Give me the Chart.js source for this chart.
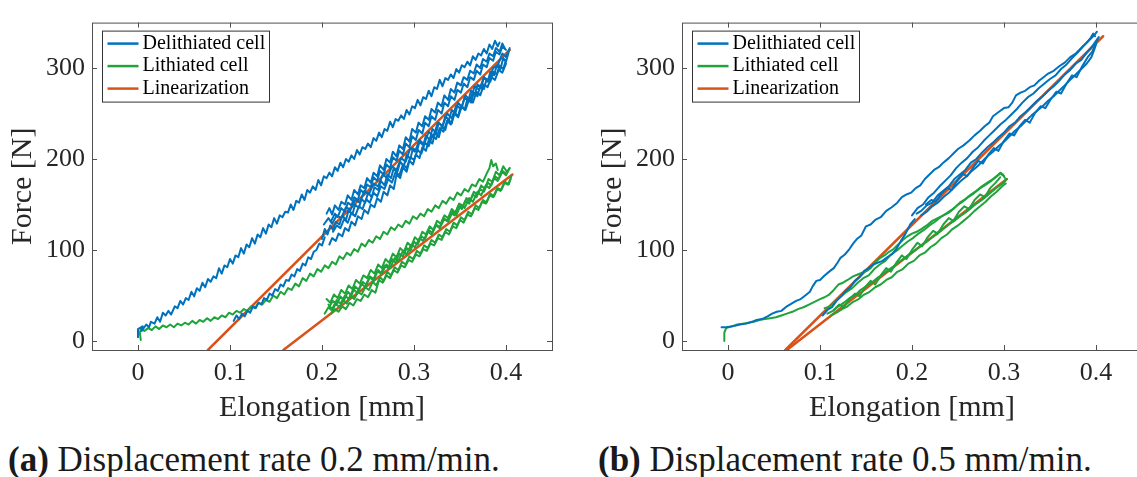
<!DOCTYPE html>
<html>
<head>
<meta charset="utf-8">
<script src="https://cdn.jsdelivr.net/npm/chart.js@4.4.1/dist/chart.umd.min.js"></script>
<style>
html, body { margin: 0; overflow: hidden; }
body { width: 1137px; height: 477px; background: #fff; position: relative; font-family: 'Liberation Serif', serif; }
canvas { position: absolute; top: 0; }
#chartA { left: 0; }
#chartB { left: 590px; }
.caption { position: absolute; top: 440px; font-size: 35px; line-height: 40px; color: #1a1a1a; white-space: nowrap; }
</style>
</head>
<body>
<canvas id="chartA" width="560" height="430"></canvas>
<canvas id="chartB" width="560" height="430"></canvas>
<div class="caption" style="left:8px"><b>(a)</b> Displacement rate 0.2 mm/min.</div>
<div class="caption" style="left:598px"><b>(b)</b> Displacement rate 0.5 mm/min.</div>
<script>
var xTicks = [0, 0.1, 0.2, 0.3, 0.4];
var yTicks = [0, 100, 200, 300];
var xRange = [-0.05, 0.45];
var yRange = [-10, 350];

var seriesNames = ['Delithiated cell', 'Lithiated cell', 'Linearization'];
var seriesColors = ['#0072BD', '#1FA33B', '#D95319'];

// traces are flat lists: x0, y0, x1, y1, ...  (elongation in mm, force in N)

// (a) 0.2 mm/min
var delithA_first = [0.000,4, 0.000,13, 0.005,16, 0.004,11, 0.009,18, 0.012,15, 0.014,21, 0.018,19, 0.021,26, 0.024,21,
  0.027,31, 0.030,28, 0.033,33, 0.036,29, 0.040,38, 0.043,36, 0.046,44, 0.049,40, 0.052,47, 0.055,45, 0.058,54, 0.061,49,
  0.064,58, 0.067,55, 0.070,64, 0.073,59, 0.076,68, 0.079,65, 0.082,71, 0.085,69, 0.088,80, 0.091,74, 0.094,83, 0.097,81,
  0.100,90, 0.103,85, 0.106,94, 0.109,92, 0.112,102, 0.115,96, 0.118,106, 0.121,103, 0.124,113, 0.127,107, 0.130,117,
  0.133,114, 0.136,124, 0.139,118, 0.142,128, 0.145,125, 0.148,135, 0.151,129, 0.154,138, 0.157,136, 0.160,142, 0.163,141,
  0.166,150, 0.169,144, 0.172,154, 0.175,152, 0.178,161, 0.181,155, 0.184,166, 0.187,163, 0.190,170, 0.193,166, 0.196,177,
  0.199,171, 0.202,181, 0.205,179, 0.208,185, 0.211,181, 0.214,191, 0.217,187, 0.220,196, 0.223,191, 0.226,200, 0.229,197,
  0.232,204, 0.235,200, 0.238,210, 0.241,205, 0.244,213, 0.247,211, 0.250,217, 0.253,213, 0.256,223, 0.259,220, 0.262,229,
  0.265,224, 0.268,233, 0.271,231, 0.274,241, 0.277,235, 0.280,244, 0.283,242, 0.286,248, 0.289,244, 0.292,254, 0.295,249,
  0.298,258, 0.301,256, 0.304,265, 0.307,259, 0.310,268, 0.313,266, 0.316,275, 0.319,269, 0.322,279, 0.325,277, 0.328,287,
  0.331,280, 0.334,289, 0.337,287, 0.340,293, 0.343,289, 0.346,299, 0.349,295, 0.352,303, 0.355,301, 0.358,307, 0.361,303,
  0.364,313, 0.367,309, 0.370,316, 0.373,314, 0.376,321, 0.379,316, 0.382,326, 0.385,321, 0.388,330, 0.391,324, 0.393,328];
var delithA_lead = [0.104,22, 0.107,28, 0.110,24, 0.113,30, 0.116,27, 0.119,33, 0.122,31, 0.125,38, 0.128,36, 0.131,42,
  0.134,40, 0.137,47, 0.140,45, 0.143,52, 0.146,50, 0.149,57, 0.152,55, 0.155,62, 0.158,60, 0.161,67, 0.164,66, 0.167,73,
  0.170,71, 0.173,79, 0.176,77, 0.179,85, 0.182,83, 0.185,92, 0.188,90, 0.191,98, 0.194,100, 0.197,107, 0.200,105, 0.203,114];
var delithA_c1 = [0.205,140, 0.208,146, 0.211,139, 0.214,149, 0.218,144, 0.221,153, 0.225,150, 0.228,160, 0.232,155,
  0.235,166, 0.239,161, 0.242,171, 0.246,168, 0.249,179, 0.253,174, 0.256,185, 0.260,181, 0.263,193, 0.267,188, 0.270,200,
  0.274,196, 0.277,208, 0.281,203, 0.284,215, 0.288,211, 0.291,224, 0.295,219, 0.298,233, 0.302,229, 0.305,240, 0.309,236,
  0.312,247, 0.316,243, 0.319,255, 0.323,251, 0.326,262, 0.330,258, 0.333,270, 0.337,265, 0.340,277, 0.344,273, 0.347,284,
  0.351,281, 0.354,290, 0.358,287, 0.361,297, 0.365,294, 0.368,304, 0.372,300, 0.375,310, 0.379,307, 0.382,316, 0.386,313,
  0.389,322, 0.393,318, 0.396,327, 0.399,321];
var delithA_c2 = [0.200,112, 0.203,123, 0.206,117, 0.209,127, 0.212,122, 0.215,131, 0.219,128, 0.222,138, 0.226,133,
  0.229,144, 0.233,139, 0.236,150, 0.240,146, 0.243,156, 0.247,152, 0.250,163, 0.254,158, 0.257,169, 0.261,166, 0.264,176,
  0.268,171, 0.271,183, 0.275,179, 0.278,190, 0.282,186, 0.285,197, 0.289,192, 0.292,205, 0.296,200, 0.299,212, 0.303,208,
  0.306,219, 0.310,215, 0.313,226, 0.317,221, 0.320,233, 0.324,229, 0.327,240, 0.331,236, 0.334,247, 0.338,243, 0.341,254,
  0.345,250, 0.348,262, 0.352,257, 0.355,268, 0.359,264, 0.362,275, 0.366,271, 0.369,282, 0.373,278, 0.376,290, 0.380,285,
  0.383,296, 0.387,292, 0.390,303, 0.394,299, 0.397,311, 0.400,307, 0.403,318];
var delithA_c3 = [0.208,106, 0.211,113, 0.215,110, 0.218,118, 0.222,115, 0.225,124, 0.229,121, 0.232,131, 0.236,127,
  0.239,137, 0.243,134, 0.246,144, 0.250,140, 0.253,150, 0.257,147, 0.260,157, 0.264,153, 0.267,164, 0.271,160, 0.274,171,
  0.278,167, 0.281,183, 0.285,179, 0.288,191, 0.292,186, 0.295,198, 0.299,194, 0.302,205, 0.306,201, 0.309,213, 0.313,209,
  0.316,221, 0.320,217, 0.323,229, 0.327,224, 0.330,236, 0.334,232, 0.337,244, 0.341,239, 0.344,251, 0.348,247, 0.351,259,
  0.355,254, 0.358,266, 0.362,262, 0.365,273, 0.369,269, 0.372,281, 0.376,277, 0.379,288, 0.383,285, 0.386,296, 0.390,293,
  0.393,303, 0.397,299, 0.400,309];
var delithA_c4 = [0.202,128, 0.207,135, 0.211,129, 0.216,138, 0.221,135, 0.226,147, 0.231,144, 0.236,155, 0.241,152,
  0.246,165, 0.251,161, 0.256,173, 0.261,170, 0.266,183, 0.271,179, 0.276,192, 0.281,188, 0.286,201, 0.291,197, 0.296,212,
  0.301,208, 0.306,221, 0.311,216, 0.316,230, 0.321,225, 0.326,240, 0.331,236, 0.336,250, 0.341,245, 0.346,259, 0.351,255,
  0.356,270, 0.361,265, 0.366,280, 0.371,276, 0.376,290, 0.381,286, 0.386,300, 0.391,303, 0.396,316, 0.400,312, 0.404,322];
var delithA_c5 = [0.210,132, 0.214,140, 0.217,136, 0.221,146, 0.225,142, 0.228,152, 0.232,149, 0.235,158, 0.239,155,
  0.242,166, 0.246,162, 0.249,172, 0.253,169, 0.256,180, 0.260,176, 0.263,187, 0.267,183, 0.270,194, 0.274,190, 0.277,202,
  0.281,198, 0.284,209, 0.288,205, 0.291,217, 0.295,213, 0.298,225, 0.302,221, 0.305,232, 0.309,228, 0.312,240, 0.316,236,
  0.319,247, 0.323,243, 0.326,254, 0.330,250, 0.333,262, 0.337,258, 0.340,269, 0.344,265, 0.347,276, 0.351,273, 0.354,283,
  0.358,279, 0.361,290, 0.365,287, 0.368,297, 0.372,293, 0.375,304, 0.379,301, 0.382,311, 0.386,308, 0.389,318, 0.393,315,
  0.396,324, 0.400,320];
var delithA_c6 = [0.212,120, 0.216,127, 0.220,124, 0.224,134, 0.228,130, 0.232,141, 0.236,137, 0.240,148, 0.244,145,
  0.248,156, 0.252,152, 0.256,163, 0.260,159, 0.264,170, 0.268,167, 0.272,178, 0.276,174, 0.280,186, 0.284,182, 0.288,194,
  0.292,190, 0.296,202, 0.300,199, 0.304,210, 0.308,206, 0.312,218, 0.316,214, 0.320,226, 0.324,222, 0.328,234, 0.332,230,
  0.336,242, 0.340,238, 0.344,250, 0.348,246, 0.352,258, 0.356,254, 0.360,266, 0.364,262, 0.368,274, 0.372,270, 0.376,282,
  0.380,279, 0.384,290, 0.388,287, 0.392,298, 0.396,295, 0.400,305];

var lithA_first = [0.003,1, 0.002,9, 0.003,13, 0.007,11, 0.011,14, 0.015,12, 0.019,16, 0.023,13, 0.027,17, 0.031,15,
  0.035,18, 0.039,15, 0.043,19, 0.047,17, 0.051,20, 0.055,18, 0.059,22, 0.063,19, 0.067,23, 0.071,21, 0.075,25, 0.079,22,
  0.083,26, 0.087,24, 0.091,28, 0.095,26, 0.099,31, 0.103,29, 0.107,33, 0.111,31, 0.115,35, 0.119,33, 0.123,38, 0.127,36,
  0.131,42, 0.135,40, 0.139,45, 0.143,43, 0.147,50, 0.151,47, 0.155,54, 0.159,51, 0.163,58, 0.167,56, 0.171,63, 0.175,60,
  0.179,69, 0.183,66, 0.187,74, 0.191,71, 0.195,79, 0.199,76, 0.203,83, 0.207,80, 0.211,87, 0.215,84, 0.219,93, 0.223,90,
  0.227,97, 0.231,94, 0.235,101, 0.239,98, 0.243,107, 0.247,104, 0.251,111, 0.255,108, 0.259,115, 0.263,112, 0.267,120,
  0.271,117, 0.275,125, 0.279,122, 0.283,128, 0.287,125, 0.291,132, 0.295,129, 0.299,137, 0.303,134, 0.307,140, 0.311,137,
  0.315,145, 0.319,142, 0.323,149, 0.327,146, 0.331,154, 0.335,151, 0.339,158, 0.343,155, 0.347,163, 0.351,160, 0.355,167,
  0.359,164, 0.363,172, 0.367,170, 0.371,178, 0.375,175, 0.379,184, 0.382,190, 0.384,199, 0.386,192, 0.389,195, 0.391,188];
var lithA_c1 = [0.205,46, 0.209,42, 0.213,51, 0.217,47, 0.221,56, 0.225,52, 0.229,61, 0.233,57, 0.237,67, 0.241,63,
  0.245,72, 0.249,69, 0.253,78, 0.257,74, 0.261,84, 0.265,80, 0.269,90, 0.273,86, 0.277,96, 0.281,92, 0.285,102, 0.289,98,
  0.293,108, 0.297,104, 0.301,114, 0.305,110, 0.309,120, 0.313,117, 0.317,126, 0.321,122, 0.325,132, 0.329,129, 0.333,138,
  0.337,135, 0.341,145, 0.345,141, 0.349,151, 0.353,148, 0.357,157, 0.361,154, 0.365,164, 0.369,161, 0.373,171, 0.377,167,
  0.381,178, 0.385,175, 0.389,186, 0.393,182, 0.397,192, 0.401,186, 0.404,190];
var lithA_c2 = [0.203,30, 0.207,37, 0.211,33, 0.215,41, 0.219,37, 0.223,45, 0.227,41, 0.231,50, 0.235,46, 0.239,54,
  0.243,51, 0.247,59, 0.251,56, 0.255,65, 0.259,61, 0.263,70, 0.267,66, 0.271,76, 0.275,72, 0.279,81, 0.283,78, 0.287,87,
  0.291,84, 0.295,93, 0.299,90, 0.303,99, 0.307,96, 0.311,105, 0.315,102, 0.319,111, 0.323,108, 0.327,117, 0.331,114,
  0.335,123, 0.339,120, 0.343,130, 0.347,127, 0.351,136, 0.355,133, 0.359,142, 0.363,139, 0.367,149, 0.371,146, 0.375,155,
  0.379,152, 0.383,162, 0.387,159, 0.391,168, 0.395,166, 0.399,175, 0.403,172, 0.406,182];
var lithA_c3 = [0.210,30, 0.214,35, 0.218,32, 0.222,38, 0.226,35, 0.230,42, 0.234,39, 0.238,46, 0.242,44, 0.246,51,
  0.250,48, 0.254,56, 0.258,53, 0.262,67, 0.266,64, 0.270,72, 0.274,69, 0.278,78, 0.282,75, 0.286,83, 0.290,81, 0.294,89,
  0.298,87, 0.302,95, 0.306,93, 0.310,101, 0.314,99, 0.318,107, 0.322,105, 0.326,113, 0.330,111, 0.334,120, 0.338,117,
  0.342,126, 0.346,124, 0.350,133, 0.354,130, 0.358,139, 0.362,137, 0.366,146, 0.370,144, 0.374,153, 0.378,151, 0.382,160,
  0.386,158, 0.390,167, 0.394,165, 0.398,174, 0.402,172, 0.405,178];
var lithA_c4 = [0.207,40, 0.211,35, 0.216,45, 0.220,41, 0.225,50, 0.229,46, 0.234,57, 0.238,53, 0.243,63, 0.247,59,
  0.252,70, 0.256,66, 0.261,78, 0.265,74, 0.270,84, 0.274,80, 0.279,91, 0.283,88, 0.288,99, 0.292,95, 0.297,106, 0.301,103,
  0.306,113, 0.310,110, 0.315,120, 0.319,117, 0.324,127, 0.328,124, 0.333,134, 0.337,131, 0.342,142, 0.346,138, 0.351,150,
  0.355,146, 0.360,157, 0.364,153, 0.369,164, 0.373,160, 0.378,171, 0.382,168, 0.387,179, 0.391,176, 0.396,186, 0.400,182, 0.404,190];
var lithA_c5 = [0.208,38, 0.212,44, 0.216,40, 0.220,49, 0.224,45, 0.228,54, 0.232,50, 0.236,60, 0.240,56, 0.244,65,
  0.248,62, 0.252,71, 0.256,68, 0.260,77, 0.264,74, 0.268,83, 0.272,80, 0.276,90, 0.280,86, 0.284,96, 0.288,93, 0.292,102,
  0.296,99, 0.300,109, 0.304,106, 0.308,115, 0.312,112, 0.316,122, 0.320,119, 0.324,128, 0.328,125, 0.332,135, 0.336,132,
  0.340,141, 0.344,138, 0.348,148, 0.352,145, 0.356,154, 0.360,151, 0.364,161, 0.368,158, 0.372,167, 0.376,164, 0.380,174,
  0.384,171, 0.388,181, 0.392,178, 0.396,187, 0.400,184];

var linA_delith = [0.076,-10, 0.404,320];
var linA_lith = [0.158,-10, 0.407,183];

// (b) 0.5 mm/min
var delithB_first = [-0.007,15, -0.002,15, 0.005,16, 0.013,18, 0.020,19, 0.026,21, 0.031,23, 0.037,24, 0.043,27, 0.048,30,
  0.053,32, 0.058,33, 0.064,38, 0.069,41, 0.074,44, 0.079,46, 0.084,50, 0.089,54, 0.092,60, 0.096,66, 0.100,67, 0.105,72,
  0.111,77, 0.115,80, 0.119,86, 0.122,91, 0.127,95, 0.132,101, 0.136,107, 0.140,112, 0.145,116, 0.150,126, 0.155,128,
  0.160,133, 0.166,136, 0.172,143, 0.178,147, 0.184,152, 0.189,158, 0.194,161, 0.199,163, 0.204,168, 0.209,171, 0.214,178,
  0.219,183, 0.224,188, 0.229,191, 0.234,196, 0.240,201, 0.245,206, 0.250,211, 0.256,215, 0.262,220, 0.268,226, 0.274,231,
  0.279,236, 0.284,240, 0.288,247, 0.292,250, 0.296,253, 0.300,256, 0.305,257, 0.309,262, 0.313,270, 0.318,273, 0.323,275,
  0.328,279, 0.333,281, 0.338,286, 0.343,290, 0.348,294, 0.354,297, 0.360,302, 0.366,306, 0.372,312, 0.378,316, 0.384,322,
  0.390,328, 0.394,333, 0.397,338, 0.399,335];
var delithB_lead = [0.103,28, 0.108,34, 0.113,37, 0.118,44, 0.123,49, 0.128,55, 0.133,59, 0.138,66, 0.143,70, 0.148,77,
  0.153,80, 0.158,84, 0.163,86, 0.168,88, 0.173,92, 0.178,95, 0.183,101, 0.188,110, 0.193,118, 0.198,128, 0.203,134];
var delithB_c1 = [0.200,138, 0.206,146, 0.212,150, 0.218,158, 0.224,163, 0.230,170, 0.236,176, 0.242,182, 0.248,190,
  0.254,196, 0.260,201, 0.266,208, 0.272,213, 0.278,220, 0.284,226, 0.290,232, 0.296,238, 0.302,243, 0.308,249, 0.314,255,
  0.320,262, 0.326,268, 0.332,272, 0.338,278, 0.344,283, 0.350,288, 0.356,292, 0.362,299, 0.368,304, 0.374,311, 0.380,317,
  0.386,324, 0.392,330, 0.398,336, 0.401,340];
var delithB_c2 = [0.205,140, 0.210,143, 0.216,149, 0.222,152, 0.228,160, 0.234,165, 0.240,170, 0.246,178, 0.252,183,
  0.258,188, 0.264,196, 0.270,200, 0.276,207, 0.282,213, 0.288,218, 0.294,224, 0.300,229, 0.306,236, 0.312,240, 0.318,247,
  0.324,252, 0.330,258, 0.336,264, 0.342,269, 0.348,275, 0.354,280, 0.360,286, 0.366,293, 0.372,298, 0.378,305, 0.384,309,
  0.390,317, 0.396,324, 0.400,330, 0.403,334];
var delithB_c3 = [0.210,138, 0.216,142, 0.222,148, 0.228,152, 0.234,158, 0.240,163, 0.246,169, 0.252,175, 0.258,180,
  0.264,186, 0.270,191, 0.276,197, 0.282,203, 0.288,208, 0.294,214, 0.300,219, 0.306,225, 0.312,231, 0.318,236, 0.324,242,
  0.330,248, 0.336,253, 0.342,258, 0.348,264, 0.354,269, 0.360,275, 0.366,281, 0.372,287, 0.378,293, 0.384,299, 0.390,305,
  0.395,312, 0.398,320, 0.400,326];
var delithB_c4 = [0.215,150, 0.221,155, 0.226,153, 0.232,162, 0.238,168, 0.243,166, 0.249,176, 0.255,184, 0.260,181,
  0.266,190, 0.272,198, 0.277,195, 0.283,205, 0.289,212, 0.294,209, 0.300,220, 0.306,228, 0.311,226, 0.317,236, 0.323,243,
  0.328,240, 0.334,251, 0.340,258, 0.345,256, 0.351,266, 0.357,274, 0.362,272, 0.368,283, 0.374,292, 0.379,290, 0.385,302,
  0.391,312, 0.396,318, 0.402,332];

var lithB_first = [-0.004,0, -0.004,9, -0.002,14, 0.004,16, 0.010,18, 0.016,19, 0.022,20, 0.028,21, 0.034,23, 0.040,24,
  0.046,25, 0.052,26, 0.058,28, 0.064,30, 0.070,32, 0.076,35, 0.082,37, 0.088,40, 0.094,43, 0.100,46, 0.105,48, 0.110,51,
  0.115,56, 0.120,62, 0.125,64, 0.130,67, 0.136,71, 0.141,73, 0.146,75, 0.151,77, 0.155,80, 0.160,86, 0.165,91, 0.170,94,
  0.175,98, 0.180,101, 0.185,106, 0.190,111, 0.195,115, 0.200,118, 0.205,120, 0.210,123, 0.216,127, 0.222,132, 0.228,135,
  0.234,138, 0.240,141, 0.246,146, 0.252,152, 0.258,156, 0.264,161, 0.270,165, 0.276,170, 0.282,174, 0.288,178, 0.293,182,
  0.296,185, 0.299,183, 0.301,179];
var lithB_c1 = [0.105,36, 0.111,38, 0.117,44, 0.123,49, 0.129,54, 0.135,58, 0.141,64, 0.147,69, 0.153,72, 0.159,79,
  0.165,84, 0.171,88, 0.177,95, 0.183,99, 0.189,104, 0.195,109, 0.201,113, 0.207,118, 0.213,122, 0.219,127, 0.225,131,
  0.231,136, 0.237,140, 0.243,144, 0.249,149, 0.255,153, 0.261,158, 0.267,162, 0.273,167, 0.279,171, 0.285,175, 0.291,180,
  0.296,184, 0.300,181];
var lithB_c2 = [0.108,30, 0.114,33, 0.120,38, 0.126,42, 0.132,47, 0.138,50, 0.144,56, 0.150,60, 0.156,64, 0.162,69,
  0.168,73, 0.174,78, 0.180,82, 0.186,87, 0.192,91, 0.198,96, 0.204,100, 0.210,105, 0.216,109, 0.222,114, 0.228,118,
  0.234,123, 0.240,128, 0.246,132, 0.252,137, 0.258,141, 0.264,146, 0.270,151, 0.276,155, 0.282,160, 0.288,165, 0.294,170,
  0.300,174, 0.303,178];
var lithB_c3 = [0.112,28, 0.118,31, 0.124,35, 0.130,38, 0.136,43, 0.142,46, 0.148,51, 0.154,54, 0.160,59, 0.166,62,
  0.172,67, 0.178,70, 0.184,76, 0.190,79, 0.196,85, 0.202,88, 0.208,94, 0.214,97, 0.220,103, 0.226,107, 0.232,113,
  0.238,117, 0.244,123, 0.250,127, 0.256,132, 0.262,137, 0.268,143, 0.274,148, 0.280,153, 0.286,159, 0.292,164, 0.298,170, 0.302,173];
var lithB_c4 = [0.115,34, 0.121,40, 0.126,37, 0.132,46, 0.138,52, 0.143,49, 0.149,59, 0.155,66, 0.160,62, 0.166,72,
  0.172,80, 0.177,76, 0.183,86, 0.189,94, 0.194,90, 0.200,100, 0.206,108, 0.211,104, 0.217,114, 0.223,121, 0.228,118,
  0.234,128, 0.240,135, 0.245,132, 0.251,142, 0.257,148, 0.262,145, 0.268,155, 0.274,161, 0.279,158, 0.285,168, 0.291,174, 0.296,180];

var linB_delith = [0.0623,-10, 0.4077,335];
var linB_lith = [0.064,-10, 0.303,178];

var serif = "'Liberation Serif', serif";
var axisColor = '#262626';

function pts(a) {
  var p = [];
  for (var i = 0; i < a.length; i += 2) p.push({ x: a[i], y: a[i + 1] });
  return p;
}

function traceSet(list, k, w) {
  return list.map(function(t) {
    return { label: seriesNames[k], data: pts(t), showLine: true, pointRadius: 0, borderColor: seriesColors[k],
      borderWidth: w, borderJoinStyle: 'round', borderCapStyle: 'round', tension: 0 };
  });
}

// box, inward ticks on all four sides and the legend in the upper left
var framePlugin = {
  id: 'frame',
  afterDraw: function(chart) {
    var ctx = chart.ctx, a = chart.chartArea, sx = chart.scales.x, sy = chart.scales.y;
    ctx.save();
    ctx.strokeStyle = '#505050';
    ctx.lineWidth = 1;
    ctx.strokeRect(a.left + 0.5, a.top + 0.5, a.right - a.left, a.bottom - a.top);
    ctx.beginPath();
    xTicks.forEach(function(v) {
      var px = Math.round(sx.getPixelForValue(v)) + 0.5;
      ctx.moveTo(px, a.bottom); ctx.lineTo(px, a.bottom - 5);
      ctx.moveTo(px, a.top); ctx.lineTo(px, a.top + 5);
    });
    yTicks.forEach(function(v) {
      var py = Math.round(sy.getPixelForValue(v)) + 0.5;
      ctx.moveTo(a.left, py); ctx.lineTo(a.left + 5, py);
      ctx.moveTo(a.right, py); ctx.lineTo(a.right - 5, py);
    });
    ctx.stroke();

    var bx = a.left + 10.5, by = a.top + 8.5;
    ctx.fillStyle = '#fff';
    ctx.fillRect(bx, by, 167, 71);
    ctx.strokeStyle = '#333';
    ctx.strokeRect(bx, by, 167, 71);
    ctx.font = '20px ' + serif;
    ctx.textBaseline = 'middle';
    for (var i = 0; i < seriesNames.length; i++) {
      var ry = by + 12.5 + i * 22.5;
      ctx.strokeStyle = seriesColors[i];
      ctx.lineWidth = 2.5;
      ctx.beginPath();
      ctx.moveTo(bx + 5, ry); ctx.lineTo(bx + 36, ry);
      ctx.stroke();
      ctx.fillStyle = '#000';
      ctx.fillText(seriesNames[i], bx + 40, ry);
    }
    ctx.restore();
  }
};

function makeChart(id, delith, lith, lin) {
  var datasets = traceSet(delith, 0, 2).concat(traceSet(lith, 1, 2), traceSet(lin, 2, 2.5));
  return new Chart(document.getElementById(id), {
    type: 'scatter',
    data: { datasets: datasets },
    plugins: [framePlugin],
    options: {
      responsive: false,
      animation: false,
      layout: { padding: { left: 0, right: 8, top: 7, bottom: 0 } },
      plugins: { legend: { display: false }, tooltip: { enabled: false } },
      scales: {
        x: {
          type: 'linear', min: xRange[0], max: xRange[1],
          afterBuildTicks: function(s) { s.ticks = xTicks.map(function(v) { return { value: v }; }); },
          afterFit: function(s) { s.height = 80; },
          grid: { display: false, drawTicks: false },
          border: { display: false },
          ticks: { padding: 8, color: axisColor, maxRotation: 0, autoSkip: false, font: { family: serif, size: 26 },
            callback: function(v) { return String(v); } },
          title: { display: true, text: 'Elongation [mm]', color: axisColor, font: { family: serif, size: 30 },
            padding: { top: 0, bottom: 4 } }
        },
        y: {
          type: 'linear', min: yRange[0], max: yRange[1],
          afterBuildTicks: function(s) { s.ticks = yTicks.map(function(v) { return { value: v }; }); },
          afterFit: function(s) { s.width = 92; },
          grid: { display: false, drawTicks: false },
          border: { display: false },
          ticks: { padding: 7, color: axisColor, autoSkip: false, font: { family: serif, size: 26 },
            callback: function(v) { return String(v); } },
          title: { display: true, text: 'Force [N]', color: axisColor, font: { family: serif, size: 30 },
            padding: { top: 5, bottom: 0 } }
        }
      }
    }
  });
}

makeChart('chartA',
  [delithA_first, delithA_lead, delithA_c1, delithA_c2, delithA_c3, delithA_c4, delithA_c5, delithA_c6],
  [lithA_first, lithA_c1, lithA_c2, lithA_c3, lithA_c4, lithA_c5],
  [linA_delith, linA_lith]);

makeChart('chartB',
  [delithB_first, delithB_lead, delithB_c1, delithB_c2, delithB_c3, delithB_c4],
  [lithB_first, lithB_c1, lithB_c2, lithB_c3, lithB_c4],
  [linB_delith, linB_lith]);
</script>
</body>
</html>
